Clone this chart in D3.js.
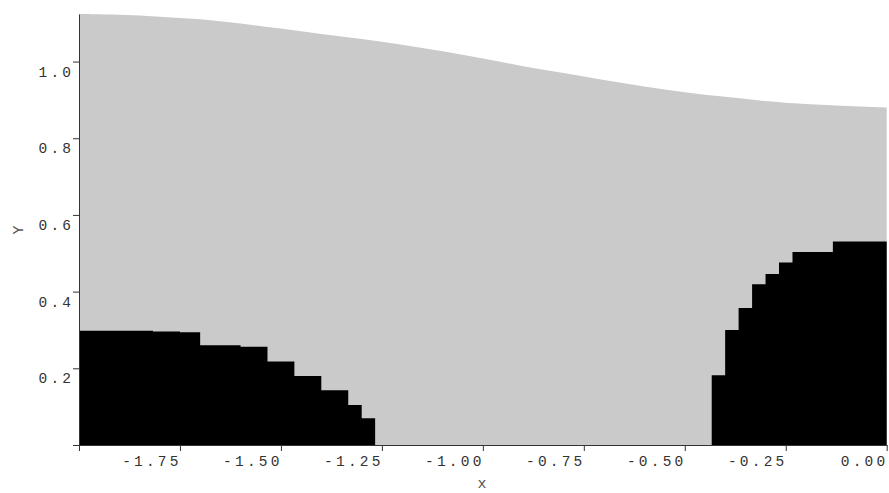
<!DOCTYPE html>
<head>
<meta charset="utf-8">
<style>
body { margin: 0; background: #fff; }
.tick text {
  font-family: 'Liberation Mono', monospace;
  font-size: 14.5px;
  letter-spacing: 3.2px;
  fill: #333;
}
.axis path, .axis line { stroke: #333; }
.title {
  font-family: 'Liberation Mono', monospace;
  font-size: 15px;
  fill: #555;
}
</style>
</head>
<body>
<div id="chart"></div>
<script src="https://d3js.org/d3.v7.min.js"></script>
<script>

// tick values
var xTicks = [-2, -1.75, -1.5, -1.25, -1, -0.75, -0.5, -0.25, 0];
var yTicks = [0, 0.2, 0.4, 0.6, 0.8, 1.0];

// upper (grey) curve, read every 0.1
var curveX = [-2.0, -1.9, -1.8, -1.7, -1.6, -1.5, -1.4, -1.3, -1.2, -1.1, -1.0,
              -0.9, -0.8, -0.7, -0.6, -0.5, -0.4, -0.3, -0.2, -0.1, 0.0];
var curveY = [1.124, 1.122, 1.117, 1.110, 1.099, 1.086, 1.072, 1.059, 1.044, 1.027, 1.008,
              0.988, 0.970, 0.952, 0.935, 0.920, 0.908, 0.897, 0.889, 0.884, 0.880];

// black stepped region, left part (step start x, value)
var leftX = [-2.0, -1.8167, -1.75, -1.7, -1.6, -1.5333, -1.4667, -1.4, -1.3333, -1.3, -1.2667];
var leftY = [0.298, 0.296, 0.294, 0.260, 0.256, 0.218, 0.180, 0.143, 0.104, 0.070, 0.070];

// black stepped region, right part
var rightX = [-0.4333, -0.4, -0.3667, -0.3333, -0.3, -0.2667, -0.2333, -0.1333, 0.0];
var rightY = [0.182, 0.300, 0.357, 0.419, 0.446, 0.476, 0.503, 0.531, 0.529];

var W = 889, H = 493;
var margin = {top: 14, right: 2.3, bottom: 48, left: 79};

var svg = d3.select('#chart').append('svg')
    .attr('width', W)
    .attr('height', H);

var x = d3.scaleLinear().domain([-2, 0]).range([margin.left, W - margin.right]);
var y = d3.scaleLinear().domain([0, 1.124]).range([H - margin.bottom, margin.top]);

function zipXY(xs, ys) {
  return xs.map(function(v, i) { return {x: v, y: ys[i]}; });
}

var greyArea = d3.area()
    .x(function(d) { return x(d.x); })
    .y0(y(0))
    .y1(function(d) { return y(d.y); })
    .curve(d3.curveCatmullRom.alpha(0.5));

var stepArea = d3.area()
    .x(function(d) { return x(d.x); })
    .y0(y(0))
    .y1(function(d) { return y(d.y); })
    .curve(d3.curveStepAfter);

svg.append('path')
    .attr('d', greyArea(zipXY(curveX, curveY)))
    .attr('fill', '#cacaca');

svg.append('path')
    .attr('d', stepArea(zipXY(leftX, leftY)))
    .attr('fill', '#000');

svg.append('path')
    .attr('d', stepArea(zipXY(rightX, rightY)))
    .attr('fill', '#000');

// axes
var xAxis = d3.axisBottom(x)
    .tickValues(xTicks)
    .tickSize(6)
    .tickSizeOuter(0)
    .tickFormat(function(d) { return d === -2 ? '' : d.toFixed(2); });

var yAxis = d3.axisLeft(y)
    .tickValues(yTicks)
    .tickSize(6)
    .tickSizeOuter(0)
    .tickFormat(function(d) { return d === 0 ? '' : d.toFixed(1); });

var gx = svg.append('g')
    .attr('class', 'axis')
    .attr('transform', 'translate(0,' + y(0) + ')')
    .call(xAxis);
gx.selectAll('.tick text')
    .attr('text-anchor', 'end')
    .attr('x', 1.2)
    .attr('y', 21)
    .attr('dy', 0);

var gy = svg.append('g')
    .attr('class', 'axis')
    .attr('transform', 'translate(' + x(-2) + ',0)')
    .call(yAxis);
gy.selectAll('.tick text')
    .attr('text-anchor', 'end')
    .attr('x', -4.8)
    .attr('y', 14.5)
    .attr('dy', 0);

svg.selectAll('.axis .domain').attr('stroke', '#333');

svg.append('text')
    .attr('class', 'title')
    .attr('x', 482)
    .attr('y', 488)
    .attr('text-anchor', 'middle')
    .text('x');

svg.append('text')
    .attr('class', 'title')
    .attr('transform', 'translate(23,230) rotate(-90)')
    .attr('text-anchor', 'middle')
    .text('Y');

</script>
</body>
